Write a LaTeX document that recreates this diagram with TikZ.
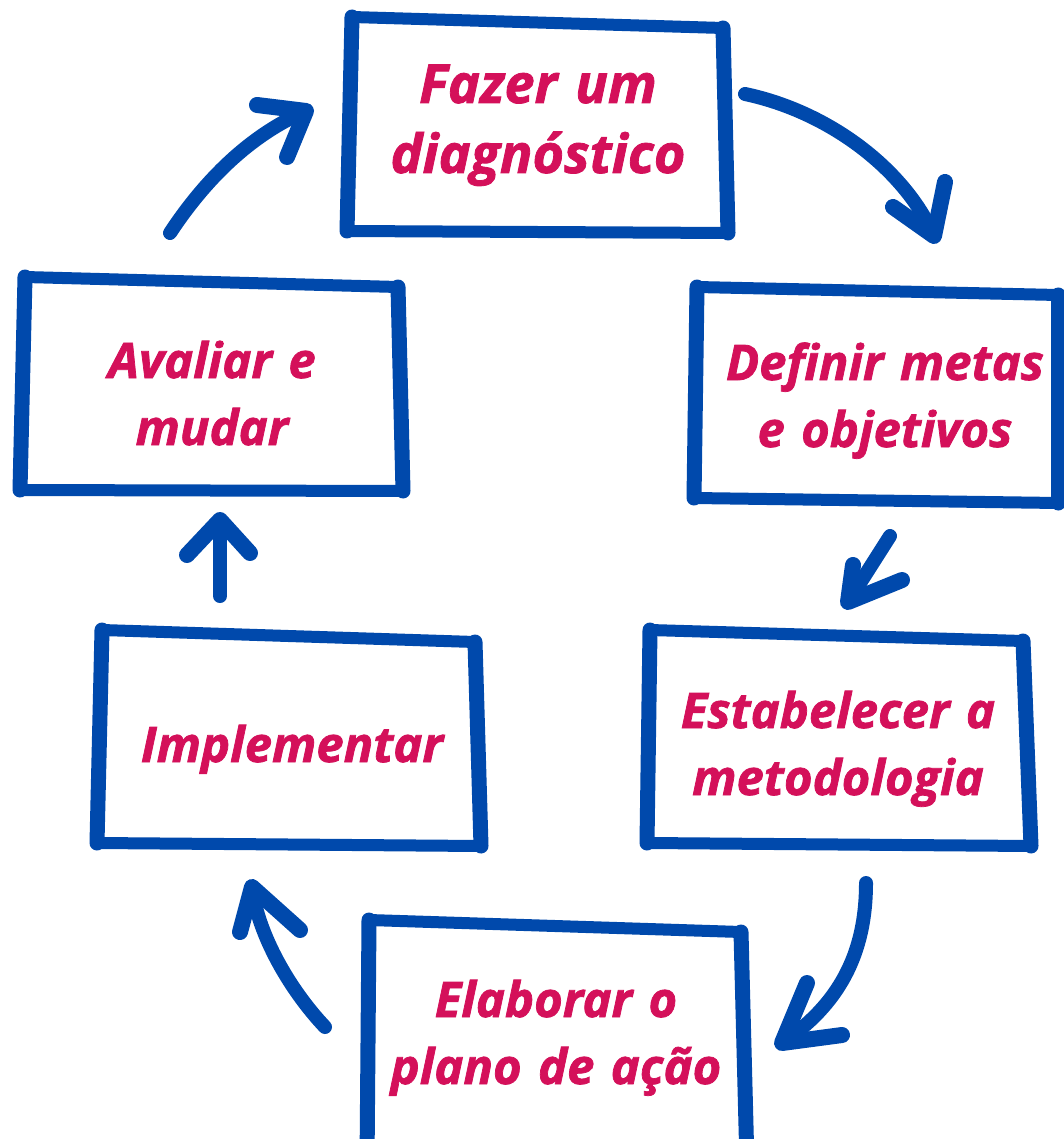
\documentclass[tikz,border=0pt]{standalone}
\usepackage{fontspec}
\setmainfont{Open Sans}[BoldItalicFeatures={FakeBold=1.5}]
\definecolor{boxblue}{RGB}{0,73,172}
\definecolor{txtpink}{RGB}{212,16,90}
\begin{document}
\begin{tikzpicture}[x=1pt,y=-1pt,
  frame/.style={draw=boxblue, fill=white, line width=12pt, line join=round, line cap=round},
  side/.style={draw=boxblue, line width=15pt, line cap=round},
  arrowline/.style={draw=boxblue, line width=14pt, line cap=round, line join=round},
  arrowhead/.style={draw=boxblue, line width=16pt, line cap=round, line join=round},
  boxtext/.style={text=txtpink, font=\fontsize{49}{67}\selectfont\bfseries\itshape, text width=440pt, align=center, anchor=base, inner sep=0pt},
  bigtext/.style={boxtext, font=\fontsize{54}{70}\selectfont\bfseries\itshape}
]
\useasboundingbox (0,0) rectangle (1064,1139);
\fill[white] (0,0) rectangle (1064,1139);

% boxes
\draw[frame] (352,17) -- (723,28) -- (728,233) -- (347,231) -- cycle;
\draw[side] (352,17) -- (347,231); \draw[side] (723,28) -- (728,233);
\draw[frame] (697,287) -- (1058,295) -- (1058,503) -- (694,498) -- cycle;
\draw[side] (697,287) -- (694,498); \draw[side] (1058,295) -- (1058,503);
\draw[frame] (25,277) -- (398,287) -- (403,491) -- (20,490) -- cycle;
\draw[side] (25,277) -- (20,490); \draw[side] (398,287) -- (403,491);
\draw[frame] (102,630) -- (475,642) -- (481,846) -- (97,843) -- cycle;
\draw[side] (102,630) -- (97,843); \draw[side] (475,642) -- (481,846);
\draw[frame] (650,630) -- (1023,641) -- (1031,846) -- (647,843) -- cycle;
\draw[side] (650,630) -- (647,843); \draw[side] (1023,641) -- (1031,846);
\draw[frame] (369,920) -- (741,932) -- (747,1165) -- (367,1165) -- cycle;
\draw[side] (369,920) -- (367,1165); \draw[side] (741,932) -- (747,1165);

% texts
\node[bigtext] (diag) at (538,103) {Fazer um\\diagnóstico};
\node[boxtext] (metas) at (885,380) {Definir metas\\e objetivos};
\node[boxtext] (aval) at (212,378) {Avaliar e\\mudar};
\node[boxtext] (impl) at (292,762) {Implementar};
\node[boxtext] (metod) at (838,728) {Estabelecer a\\metodologia};
\node[boxtext] (plano) at (556,1017) {Elaborar o\\plano de ação};

% arrow coordinates
\coordinate (a1s) at (745,94);  \coordinate (a1t) at (934,236);
\coordinate (a1l) at (893,207); \coordinate (a1r) at (945,182);
\coordinate (a2s) at (890,536); \coordinate (a2t) at (848,602);
\coordinate (a2l) at (853,565); \coordinate (a2r) at (902,580);
\coordinate (a3s) at (866,883); \coordinate (a3t) at (782,1043);
\coordinate (a3l) at (807,983); \coordinate (a3r) at (842,1035);
\coordinate (a4s) at (325,1027); \coordinate (a4t) at (252,887);
\coordinate (a4l) at (240,932); \coordinate (a4r) at (300,930);
\coordinate (a5s) at (220,596); \coordinate (a5t) at (220,520);
\coordinate (a5l) at (187,555); \coordinate (a5r) at (250,553);
\coordinate (a6s) at (170,233); \coordinate (a6t) at (306,111);
\coordinate (a6l) at (257,105); \coordinate (a6r) at (287,157);

% arrows
\draw[arrowline] (a1s) .. controls (830,112) and (905,170) .. (a1t);
\draw[arrowhead] (a1l) -- (a1t) -- (a1r);
\draw[arrowline] (a2s) -- (a2t);
\draw[arrowhead] (a2l) -- (a2t) -- (a2r);
\draw[arrowline] (a3s) .. controls (866,955) and (838,1005) .. (a3t);
\draw[arrowhead] (a3l) -- (a3t) -- (a3r);
\draw[arrowline] (a4s) .. controls (290,990) and (258,935) .. (a4t);
\draw[arrowhead] (a4l) -- (a4t) -- (a4r);
\draw[arrowline] (a5s) -- (a5t);
\draw[arrowhead] (a5l) -- (a5t) -- (a5r);
\draw[arrowline] (a6s) .. controls (205,180) and (250,135) .. (a6t);
\draw[arrowhead] (a6l) -- (a6t) -- (a6r);
\end{tikzpicture}
\end{document}
